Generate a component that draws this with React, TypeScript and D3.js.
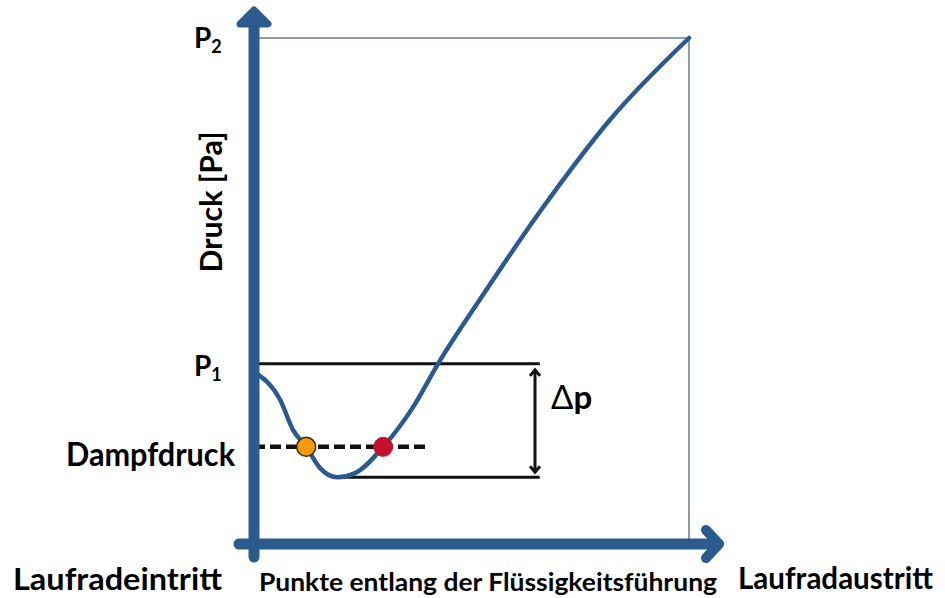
import React from "react";
import * as d3 from "d3";

// position along the flow path (0 = inlet, 100 = outlet), pressure in relative units
const curveX = [0, 6.0, 9.0, 12.0, 15.2, 19.1, 23.2, 29.7, 36.6, 42.3, 52.0, 66.0, 82.0, 100];
const curveY = [34.0, 28.5, 22.5, 19.2, 15.0, 13.2, 14.0, 19.2, 27.1, 35.6, 48.4, 66.0, 84.0, 100];
const P2 = 100;
const P1 = 35.6;
const vaporP = 19.2;
const minP = 13.2;
const orangeX = [12.0];
const redX = [29.7];
const dashEndX = [39.8];
const lineEndX = [65.7];
const minStartX = [20.5];
const deltaArrowX = [64.6];
const bottomLabels = ["Laufradeintritt", "Punkte entlang der Flüssigkeitsführung", "Laufradaustritt"];

const W = 945;
const H = 598;
const BLUE = "#2b5a8c";
const FONT = "Lato, 'Open Sans', sans-serif";

export default function App() {
  const x = d3.scaleLinear().domain([0, 100]).range([254, 689]);
  const y = d3.scaleLinear().domain([0, 100]).range([544, 38]);
  const pts: [number, number][] = curveX.map((v, i) => [v, curveY[i]]);
  const line = d3
    .line<[number, number]>()
    .x((d) => x(d[0]))
    .y((d) => y(d[1]))
    .curve(d3.curveMonotoneX);

  const ax = x(0);
  const ay = y(0);
  const arrowX = x(deltaArrowX[0]);
  const yTop = y(P1) + 6;
  const yBot = y(minP) - 5;

  return (
    <svg
      width={W}
      height={H}
      style={{ position: "absolute", left: 0, top: 0, background: "#fff" }}
      fontFamily={FONT}
    >
      {/* grey frame lines */}
      <line x1={ax} x2={x(100)} y1={y(P2)} y2={y(P2)} stroke="#8d9db1" strokeWidth={2} />
      <line x1={x(100)} x2={x(100)} y1={y(P2)} y2={ay - 5} stroke="#8d9db1" strokeWidth={2} />

      {/* black reference lines */}
      <line x1={ax} x2={x(lineEndX[0])} y1={y(P1)} y2={y(P1)} stroke="#111" strokeWidth={3} />
      <line x1={x(minStartX[0])} x2={x(lineEndX[0])} y1={y(minP)} y2={y(minP)} stroke="#111" strokeWidth={3} />

      {/* delta p arrow */}
      <line x1={arrowX} x2={arrowX} y1={yTop} y2={yBot} stroke="#111" strokeWidth={3} />
      <polyline
        points={`${arrowX - 5},${yTop + 6} ${arrowX},${yTop} ${arrowX + 5},${yTop + 6}`}
        fill="none"
        stroke="#111"
        strokeWidth={3}
      />
      <polyline
        points={`${arrowX - 5},${yBot - 6} ${arrowX},${yBot} ${arrowX + 5},${yBot - 6}`}
        fill="none"
        stroke="#111"
        strokeWidth={3}
      />

      {/* vapor pressure dashed line */}
      <line
        x1={ax}
        x2={x(dashEndX[0])}
        y1={y(vaporP)}
        y2={y(vaporP)}
        stroke="#111"
        strokeWidth={4.5}
        strokeDasharray="11 5"
      />

      {/* pressure curve */}
      <path d={line(pts) || ""} fill="none" stroke={BLUE} strokeWidth={4.5} strokeLinecap="round" />

      {/* points */}
      <circle cx={x(orangeX[0])} cy={y(vaporP)} r={9.5} fill="#f39a0e" stroke="#3a2a10" strokeWidth={1.5} />
      <circle cx={x(redX[0])} cy={y(vaporP)} r={9.5} fill="#c4102f" stroke="#c4102f" strokeWidth={1} />

      {/* axes */}
      <line x1={ax} x2={ax} y1={557} y2={14} stroke={BLUE} strokeWidth={11} strokeLinecap="round" />
      <polygon
        points={`${ax - 14},${24} ${ax},${10} ${ax + 14},${24}`}
        fill={BLUE}
        stroke={BLUE}
        strokeWidth={7}
        strokeLinejoin="round"
      />
      <line x1={239} x2={714} y1={ay} y2={ay} stroke={BLUE} strokeWidth={11} strokeLinecap="round" />
      <polyline
        points={`${706},${530} ${719},${ay} ${706},${558}`}
        fill="none"
        stroke={BLUE}
        strokeWidth={10}
        strokeLinecap="round"
        strokeLinejoin="round"
      />

      {/* labels */}
      <text x={194} y={48} fontSize={28} fontWeight={700} fill="#000">
        P<tspan fontSize={18} dy={5}>2</tspan>
      </text>
      <text x={194} y={376} fontSize={28} fontWeight={700} fill="#000">
        P<tspan fontSize={18} dy={5}>1</tspan>
      </text>
      <text x={66} y={466} fontSize={32} fontWeight={700} fill="#000" textLength={169} lengthAdjust="spacingAndGlyphs">
        Dampfdruck
      </text>
      <text x={551} y={409} fontSize={33} fill="#000">
        Δ<tspan fontWeight={700}>p</tspan>
      </text>
      <text
        transform={`translate(222,202) rotate(-90)`}
        textAnchor="middle"
        fontSize={31}
        fontWeight={700}
        fill="#000"
        textLength={141}
        lengthAdjust="spacingAndGlyphs"
      >
        Druck [Pa]
      </text>
      <text x={13} y={590} fontSize={31} fontWeight={700} fill="#000" textLength={209} lengthAdjust="spacingAndGlyphs">
        {bottomLabels[0]}
      </text>
      <text x={259} y={591} fontSize={25} fontWeight={700} fill="#000" textLength={458} lengthAdjust="spacingAndGlyphs">
        {bottomLabels[1]}
      </text>
      <text x={738} y={589} fontSize={30} fontWeight={700} fill="#000" textLength={195} lengthAdjust="spacingAndGlyphs">
        {bottomLabels[2]}
      </text>
    </svg>
  );
}
